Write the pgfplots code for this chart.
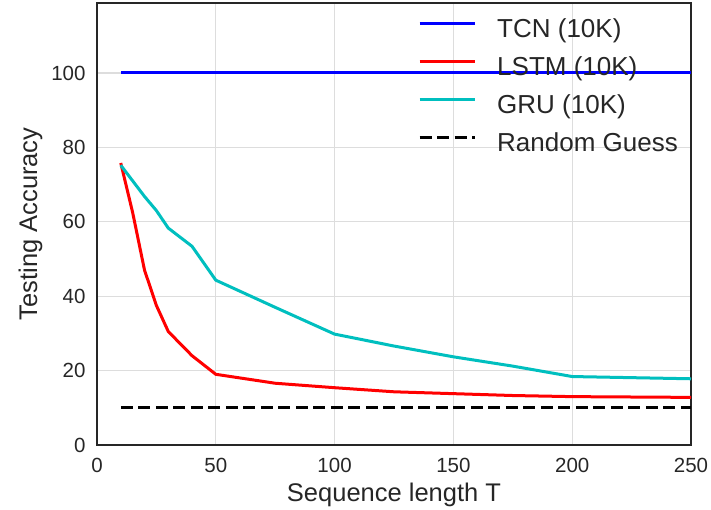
\documentclass[border=0pt]{standalone}
\usepackage{pgfplots}
\pgfplotsset{compat=1.18}
\usepackage{fontspec}
\setmainfont{Liberation Sans}
\definecolor{tcn}{RGB}{0,0,255}
\definecolor{lstm}{RGB}{255,0,0}
\definecolor{gru}{RGB}{0,191,191}
\definecolor{axc}{RGB}{38,38,38}
\definecolor{gridc}{RGB}{221,221,221}
\begin{document}
\begin{tikzpicture}
\useasboundingbox (-97bp,-65bp) rectangle (614bp,445bp);
\begin{axis}[
  at={(0,0)}, anchor=south west,
  scale only axis, width=594bp, height=442bp,
  xmin=0, xmax=250, ymin=0, ymax=118.8,
  xtick={0,50,...,250}, ytick={0,20,...,100},
  grid=major, major grid style={gridc, line width=1.2bp},
  major tick length=0pt,
  axis line style={axc, line width=1.8bp},
  /pgf/number format/assume math mode=true,
  ticklabel style={font=\fontsize{20.5bp}{24bp}\selectfont, text=axc},
  xticklabel style={yshift=-9.5bp},
  yticklabel style={xshift=-8bp},
  label style={font=\fontsize{25.5bp}{30bp}\selectfont, text=axc},
  xlabel={Sequence length T}, ylabel={Testing Accuracy},
  xlabel style={yshift=-4bp},
  ylabel style={yshift=2bp},
  legend style={draw=none, fill=none, at={(axis description cs:0.5354,0.9690)}, anchor=north west,
    font=\fontsize{26bp}{30bp}\selectfont, text=axc,
    nodes={inner sep=0pt, text height=19bp, text depth=6bp},
    row sep=13bp, column sep=21bp},
  legend cell align=left,
  legend image code/.code={\draw[#1] (0bp,8.3bp) -- (55bp,8.3bp);},
]
\addplot[tcn, line width=3bp] coordinates {(10,100) (250,100)};
\addlegendentry{TCN (10K)}
\addplot[lstm, line width=3bp] coordinates {
(10,75.8)(15,62.5)(20,47)(25,37.5)(30,30.5)(40,24)(50,19)(75,16.6)(100,15.4)(125,14.3)(150,13.8)(175,13.3)(200,13.0)(250,12.8)};
\addlegendentry{LSTM (10K)}
\addplot[gru, line width=3bp] coordinates {
(10,75.2)(20,66.8)(25,63)(30,58.3)(40,53.4)(50,44.3)(75,37)(100,29.8)(125,26.6)(150,23.7)(175,21.2)(200,18.4)(250,17.8)};
\addlegendentry{GRU (10K)}
\addplot[black, line width=3bp, dash pattern=on 12bp off 5.5bp] coordinates {(10,10) (250,10)};
\addlegendentry{Random Guess}
\end{axis}
\end{tikzpicture}
\end{document}
